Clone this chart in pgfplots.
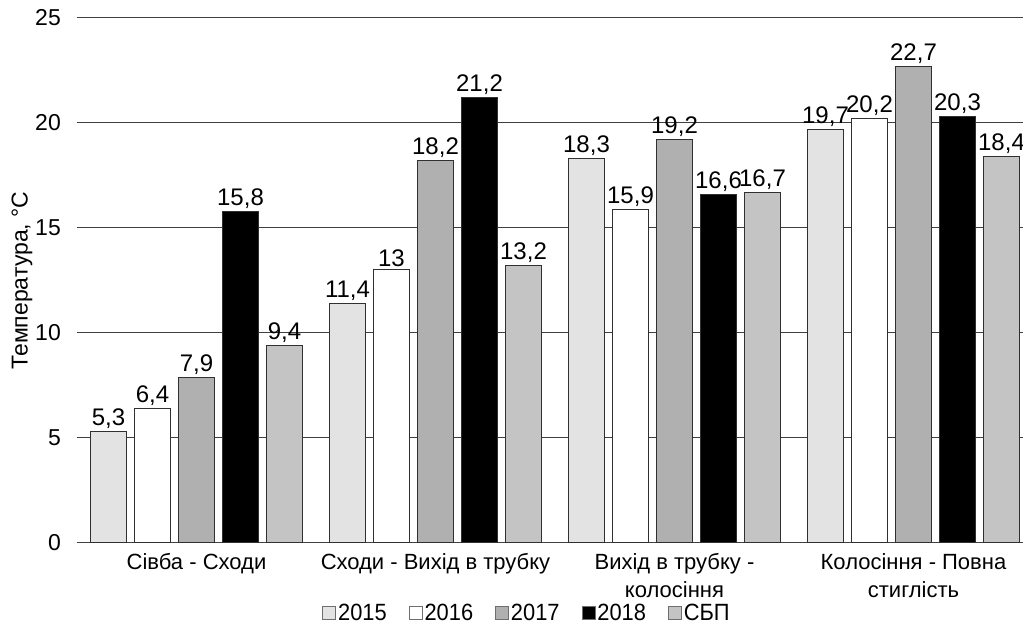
\documentclass[border=0pt]{standalone}
\usepackage{pgfplots}
\pgfplotsset{compat=1.18}
\usepackage{fontspec}
\setmainfont{Liberation Sans}
\newfontfamily\narrow[FakeStretch=0.93]{Liberation Sans}
\usetikzlibrary{calc}
\definecolor{cA}{HTML}{E3E3E3}
\definecolor{cB}{HTML}{FFFFFF}
\definecolor{cC}{HTML}{B0B0B0}
\definecolor{cD}{HTML}{000000}
\definecolor{cE}{HTML}{C4C4C4}
\definecolor{edge}{HTML}{303030}
\begin{document}
\begin{tikzpicture}
\begin{axis}[
  name=ax,
  scale only axis,
  width=946pt, height=525pt,
  xmin=-0.5, xmax=3.4582,
  ymin=0, ymax=25,
  ytick={0,5,...,25},
  xtick={0,1,2,3},
  xticklabels={{Сівба - Сходи},{Сходи - Вихід в трубку},{Вихід в трубку -\\колосіння},{Колосіння - Повна\\стиглість}},
  axis line style={draw=none},
  tick style={draw=none},
  ymajorgrids,
  major grid style={draw=black!75, line width=1pt},
  /pgf/number format/assume math mode=true,
  /pgf/number format/use comma,
  /pgf/number format/1000 sep={},
  yticklabel style={font=\fontsize{23}{26}\selectfont, inner sep=0pt, anchor=east, xshift=-16pt},
  xticklabel style={font=\fontsize{22}{28}\selectfont, align=center, inner sep=0pt, anchor=north, yshift=-6pt},
  ylabel={Температура, °C},
  ylabel style={font=\fontsize{23}{26}\selectfont, at={(axis description cs:0,0.5)}, anchor=center, yshift=55pt},
  ybar=8pt,
  bar width=36pt,
  every axis plot/.append style={draw=edge, line width=1pt},
  nodes near coords,
  every node near coord/.append style={font=\fontsize{24}{27}\selectfont, text=black, yshift=-1pt},
  legend columns=5,
  legend style={draw=none, fill=none, at={(0.4757,-0.133)}, anchor=center,
    font=\narrow\fontsize{23.5}{26}\selectfont,
    /tikz/every even column/.append style={column sep=20pt}},
  legend image code/.code={\draw[#1, line width=0.8pt, draw=edge!70] (0pt,-6.5pt) rectangle (13pt,6.5pt);},
]
\addplot[fill=cA] coordinates {(0,5.3) (1,11.4) (2,18.3) (3,19.7)};
\addplot[fill=cB] coordinates {(0,6.4) (1,13) (2,15.9) (3,20.2)};
\addplot[fill=cC] coordinates {(0,7.9) (1,18.2) (2,19.2) (3,22.7)};
\addplot[fill=cD] coordinates {(0,15.8) (1,21.2) (2,16.6) (3,20.3)};
\addplot[fill=cE] coordinates {(0,9.4) (1,13.2) (2,16.7) (3,18.4)};
\legend{2015,2016,2017,2018,СБП}
\coordinate (SW) at (rel axis cs:0,0);
\coordinate (NE) at (rel axis cs:1,1);
\end{axis}
\pgfresetboundingbox
\path[use as bounding box] ($(SW)+(-77pt,-82pt)$) rectangle ($(NE)+(0pt,18pt)$);
\end{tikzpicture}
\end{document}
